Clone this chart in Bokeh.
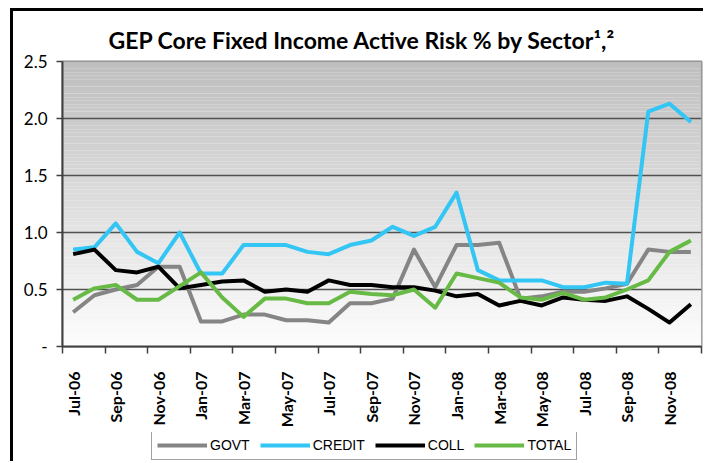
import numpy as np
from bokeh.plotting import figure
from bokeh.layouts import column
from bokeh.models import Range1d, FixedTicker, Legend, LegendItem
from bokeh.embed import file_html
from bokeh.resources import INLINE

# ---------------- data ----------------
months = ["Jul-06", "Aug-06", "Sep-06", "Oct-06", "Nov-06", "Dec-06",
          "Jan-07", "Feb-07", "Mar-07", "Apr-07", "May-07", "Jun-07",
          "Jul-07", "Aug-07", "Sep-07", "Oct-07", "Nov-07", "Dec-07",
          "Jan-08", "Feb-08", "Mar-08", "Apr-08", "May-08", "Jun-08",
          "Jul-08", "Aug-08", "Sep-08", "Oct-08", "Nov-08", "Dec-08"]

govt = [0.30, 0.45, 0.50, 0.54, 0.70, 0.70, 0.22, 0.22, 0.28, 0.28,
        0.23, 0.23, 0.21, 0.38, 0.38, 0.42, 0.85, 0.52, 0.89, 0.89,
        0.91, 0.42, 0.44, 0.48, 0.48, 0.51, 0.55, 0.85, 0.83, 0.83]
credit = [0.85, 0.87, 1.08, 0.83, 0.73, 1.00, 0.64, 0.64, 0.89, 0.89,
          0.89, 0.83, 0.81, 0.89, 0.93, 1.05, 0.97, 1.05, 1.35, 0.67,
          0.58, 0.58, 0.58, 0.52, 0.52, 0.56, 0.55, 2.06, 2.13, 1.97]
coll = [0.81, 0.85, 0.67, 0.65, 0.70, 0.51, 0.54, 0.57, 0.58, 0.48,
        0.50, 0.48, 0.58, 0.54, 0.54, 0.52, 0.52, 0.49, 0.44, 0.46,
        0.36, 0.40, 0.36, 0.43, 0.41, 0.40, 0.44, 0.33, 0.21, 0.37]
total = [0.41, 0.51, 0.54, 0.41, 0.41, 0.53, 0.65, 0.43, 0.26, 0.42,
         0.42, 0.38, 0.38, 0.48, 0.46, 0.45, 0.50, 0.34, 0.64, 0.60,
         0.56, 0.43, 0.41, 0.47, 0.41, 0.43, 0.50, 0.58, 0.83, 0.93]

series_names = ["GOVT", "CREDIT", "COLL", "TOTAL"]
series_colors = ["#858585", "#33C6F4", "#000000", "#67BA45"]
series_values = [govt, credit, coll, total]

y_ticks = [0.0, 0.5, 1.0, 1.5, 2.0, 2.5]
y_tick_labels = ["-", "0.5", "1.0", "1.5", "2.0", "2.5"]

title_text = "GEP Core Fixed Income Active Risk % by Sector\u00b9,\u00b2"

# ---------------- main figure ----------------
n = len(months)
xs = list(range(n))
BL, BR = 49, 2

p = figure(width=690, height=419, output_backend="svg", toolbar_location=None,
           x_range=Range1d(-0.5, n - 0.5), y_range=Range1d(y_ticks[0], y_ticks[-1]),
           min_border_left=BL, min_border_right=BR, min_border_top=50,
           min_border_bottom=75, margin=(0, 0, 0, 0))
p.background_fill_color = "white"
p.border_fill_color = "white"
p.outline_line_color = "#8a8a8a"
p.outline_line_width = 2

# title
p.title.text = title_text
p.title.align = "left"
p.title.offset = 46
p.title.standoff = 15
p.title.text_font = "Lato"
p.title.text_font_style = "bold"
p.title.text_font_size = "23px"
p.title.text_color = "black"

# gradient background of plotting area
nb = 80
y0, y1 = y_ticks[0], y_ticks[-1]
edges = np.linspace(y0, y1, nb + 1)
cols = []
for k in range(nb):
    f = (k + 0.5) / nb
    c = int(round(253 - f * (253 - 190)))
    cols.append("#%02x%02x%02x" % (c, c, c))
p.quad(left=-0.5, right=n - 0.5, bottom=edges[:-1], top=edges[1:],
       fill_color=cols, line_color=None, level="underlay")

# grid
p.xgrid.grid_line_color = None
p.ygrid.ticker = FixedTicker(ticks=y_ticks)
p.ygrid.grid_line_color = "#505050"
p.ygrid.grid_line_width = 1.5

# y axis
p.yaxis.ticker = FixedTicker(ticks=y_ticks)
p.yaxis.major_label_overrides = {float(t): l for t, l in zip(y_ticks, y_tick_labels)}
p.yaxis.major_label_text_font = "Lato"
p.yaxis.major_label_text_font_size = "17px"
p.yaxis.major_label_text_color = "black"
p.yaxis.major_tick_out = 6
p.yaxis.major_tick_in = 0
p.yaxis.major_tick_line_color = "#404040"
p.yaxis.major_tick_line_width = 1.5
p.yaxis.minor_tick_line_color = None
p.yaxis.axis_line_color = "#404040"
p.yaxis.axis_line_width = 2
p.yaxis.major_label_standoff = 9

# x axis
major = xs[::2]
minor = [i - 0.5 for i in range(0, n + 1, 2)]
p.xaxis.ticker = FixedTicker(ticks=major, minor_ticks=minor)
p.xaxis.major_label_overrides = {i: months[i] for i in major}
p.xaxis.major_label_orientation = np.pi / 2
p.xaxis.major_label_text_font = "Lato"
p.xaxis.major_label_text_font_style = "bold"
p.xaxis.major_label_text_font_size = "16px"
p.xaxis.major_label_text_color = "black"
p.xaxis.major_tick_out = 0
p.xaxis.major_tick_in = 0
p.xaxis.minor_tick_out = 7
p.xaxis.minor_tick_in = 0
p.xaxis.minor_tick_line_color = "#404040"
p.xaxis.minor_tick_line_width = 1.5
p.xaxis.axis_line_color = "#404040"
p.xaxis.axis_line_width = 2
p.xaxis.major_label_standoff = 18

# lines
for ys, col in zip(series_values, series_colors):
    p.line(xs, ys, line_color=col, line_width=4, line_join="round")

# ---------------- legend strip (below the chart) ----------------
# same borders as the main plot so the column keeps frames aligned;
# its y range lies far above the data so the proxy lines stay out of view
lg = figure(width=690, height=31, output_backend="svg", toolbar_location=None,
            x_axis_type=None, y_axis_type=None,
            x_range=Range1d(-0.5, n - 0.5), y_range=Range1d(100, 101),
            min_border_left=BL, min_border_right=BR, min_border_top=2,
            min_border_bottom=0, margin=(0, 0, 0, 0))
lg.outline_line_color = None
lg.background_fill_color = "white"
lg.border_fill_color = "white"
items = []
for name, ys, col in zip(series_names, series_values, series_colors):
    r = lg.line(xs, ys, line_color=col, line_width=4)
    items.append(LegendItem(label=name, renderers=[r]))
legend = Legend(items=items, orientation="horizontal", location=(89, 1))
legend.label_text_font = "Liberation Sans"
legend.label_text_font_size = "14px"
legend.label_text_color = "black"
legend.label_height = 18
legend.glyph_width = 50
legend.glyph_height = 12
legend.label_standoff = 3
legend.spacing = 10
legend.padding = 5
legend.margin = 0
legend.border_line_color = "#444444"
legend.border_line_width = 1
legend.background_fill_color = "white"
legend.background_fill_alpha = 1
lg.add_layout(legend, "center")

layout = column(p, lg, spacing=0, margin=(8, 0, 0, 10))
layout.styles = {"border-left": "3px solid black", "border-top": "3px solid black"}

open("out.html", "w").write(file_html(layout, INLINE))
